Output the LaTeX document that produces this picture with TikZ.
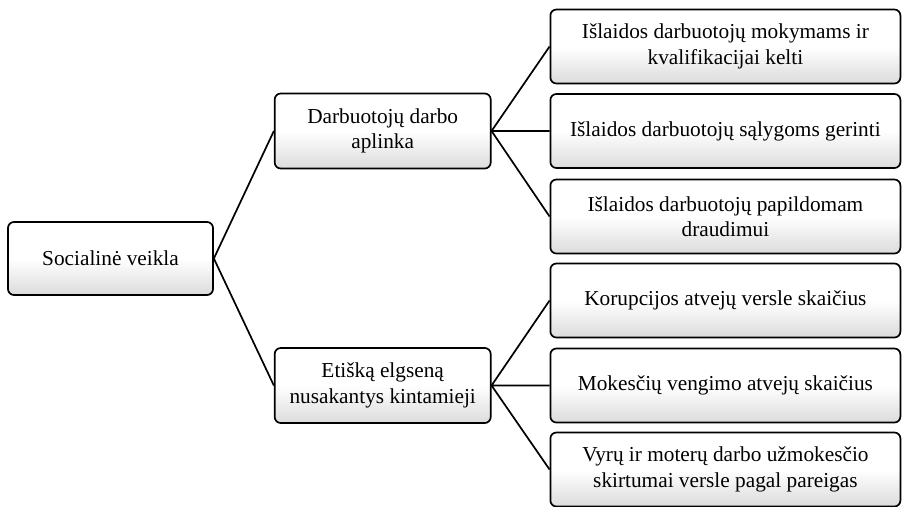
\documentclass[tikz,border=0pt]{standalone}
\usepackage{fontspec}
\setmainfont{Liberation Serif}
\usepackage{tikz}
\usetikzlibrary{positioning}
\tikzset{
    box/.style={
           rectangle,
           rounded corners=6pt,
           draw=black, line width=1.7pt,
           top color=white, bottom color=black!14, middle color=white,
           inner sep=2pt,
           align=center,
           font=\fontsize{21.3}{25.5}\selectfont,
           },
    rootbox/.style={
           box,
           minimum width=205pt,
           minimum height=73pt,
           },
    midbox/.style={
           box,
           minimum width=216pt,
           minimum height=75pt,
           },
    leafbox/.style={
           box,
           minimum width=350pt,
           minimum height=74pt,
           },
    link/.style={
           draw=black, line width=1.7pt,
           },
}
\begin{document}
\begin{tikzpicture}[x=1pt,y=1pt]

 % page size of the reference
 \useasboundingbox (0,0) rectangle (907,-506);

 % ROOT
 \node[rootbox] (SOCIAL) at (110.5,-258.5) {Socialinė veikla};

 % second level
 \node[midbox, right=60pt of SOCIAL, yshift=127.5pt] (WORKENV)
  {Darbuotojų darbo\\aplinka};
 \node[midbox, right=60pt of SOCIAL, yshift=-127pt] (ETHICS)
  {Etišką elgseną\\nusakantys kintamieji};

 % leaves: work environment
 \node[leafbox, right=58pt of WORKENV, yshift=84.5pt] (TRAINING)
  {Išlaidos darbuotojų mokymams ir\\kvalifikacijai kelti};
 \node[leafbox, right=58pt of WORKENV] (CONDITIONS)
  {Išlaidos darbuotojų sąlygoms gerinti};
 \node[leafbox, right=58pt of WORKENV, yshift=-85.5pt] (INSURANCE)
  {Išlaidos darbuotojų papildomam\\draudimui};

 % leaves: ethical behaviour
 \node[leafbox, right=58pt of ETHICS, yshift=85pt] (CORRUPTION)
  {Korupcijos atvejų versle skaičius};
 \node[leafbox, right=58pt of ETHICS] (TAXES)
  {Mokesčių vengimo atvejų skaičius};
 \node[leafbox, right=58pt of ETHICS, yshift=-84pt] (WAGEGAP)
  {Vyrų ir moterų darbo užmokesčio\\skirtumai versle pagal pareigas};

 % connectors
 \path[link]
 (SOCIAL.east) -- (WORKENV.west)
 (SOCIAL.east) -- (ETHICS.west)
 (WORKENV.east) -- (TRAINING.west)
 (WORKENV.east) -- (CONDITIONS.west)
 (WORKENV.east) -- (INSURANCE.west)
 (ETHICS.east) -- (CORRUPTION.west)
 (ETHICS.east) -- (TAXES.west)
 (ETHICS.east) -- (WAGEGAP.west)
 ;

\end{tikzpicture}
\end{document}
